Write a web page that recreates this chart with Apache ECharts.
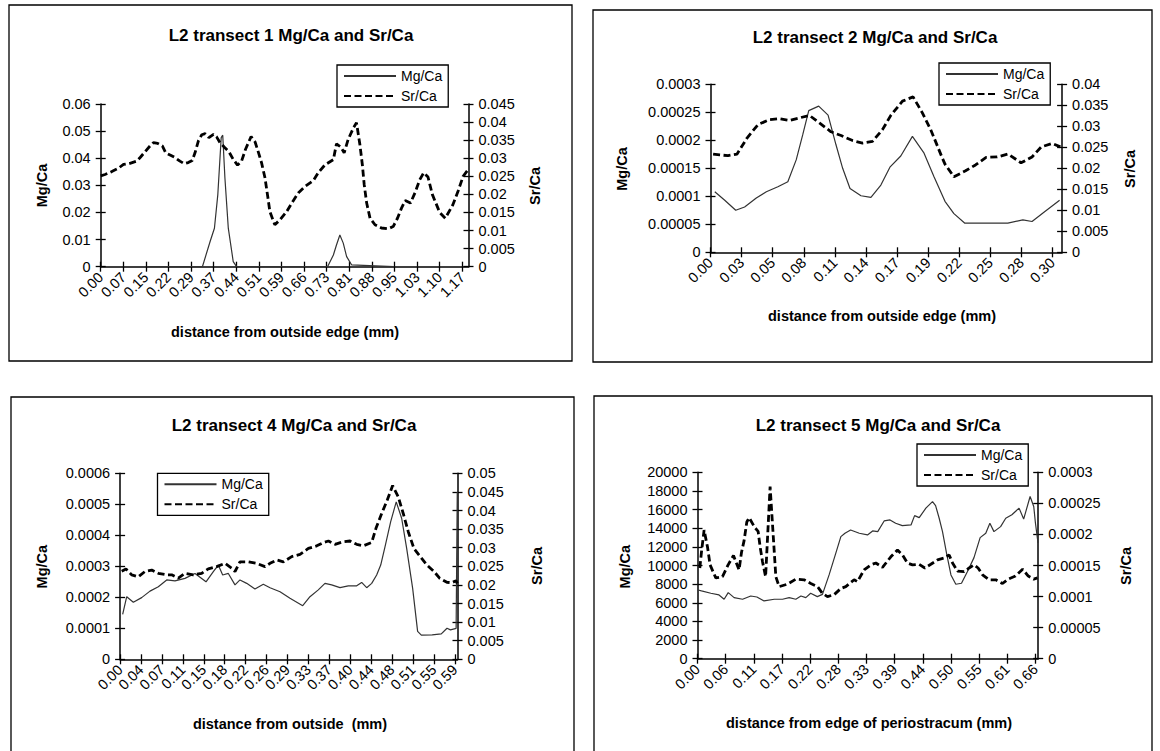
<!DOCTYPE html>
<html>
<head>
<meta charset="utf-8">
<script src="https://cdn.jsdelivr.net/npm/echarts@6/dist/echarts.min.js"></script>
<style>
  html, body { margin: 0; padding: 0; background: #fff; }
  #chart { width: 1160px; height: 751px; }
</style>
</head>
<body>
<div id="chart"></div>
<script>
// ---- Transect 1 ----
const t1Ticks = ['0.00','0.07','0.15','0.22','0.29','0.37','0.44','0.51','0.59','0.66','0.73','0.81','0.88','0.95','1.03','1.10','1.17'];
const t1MgDist = [0.15, 0.33, 0.355, 0.369, 0.380, 0.391, 0.396, 0.403, 0.414, 0.430, 0.441, 0.57, 0.736, 0.755, 0.765, 0.776, 0.787, 0.798, 0.814, 0.95];
const t1Mg     = [0, 0, 0.0093, 0.0142, 0.0266, 0.0476, 0.0485, 0.0328, 0.0142, 0.0019, 0, 0, 0, 0.0043, 0.0080, 0.0117, 0.0087, 0.0037, 0.0007, 0];
const t1SrDist = [0, 0.014, 0.036, 0.057, 0.074, 0.095, 0.117, 0.128, 0.144, 0.160, 0.171, 0.185, 0.200, 0.211, 0.225, 0.241, 0.257, 0.271, 0.284, 0.297,
  0.306, 0.317, 0.328, 0.339, 0.351, 0.366, 0.376, 0.387, 0.403, 0.416, 0.430, 0.444, 0.457, 0.470, 0.488, 0.501, 0.514, 0.522, 0.533, 0.542,
  0.549, 0.565, 0.582, 0.603, 0.620, 0.641, 0.663, 0.690, 0.706, 0.728, 0.755, 0.765, 0.779, 0.790, 0.803, 0.820, 0.830, 0.841, 0.849, 0.855,
  0.863, 0.874, 0.890, 0.911, 0.933, 0.949, 0.963, 0.976, 0.988, 1.005, 1.020, 1.035, 1.048, 1.062, 1.076, 1.100, 1.118, 1.142, 1.160, 1.176, 1.190];
const t1Sr     = [0.0251, 0.0255, 0.0263, 0.0272, 0.0283, 0.0286, 0.0292, 0.0302, 0.0318, 0.0334, 0.0343, 0.0341, 0.0334, 0.0315, 0.0309, 0.0302, 0.0292, 0.0285, 0.0288, 0.0294,
  0.0315, 0.0348, 0.0365, 0.0368, 0.0357, 0.0366, 0.0359, 0.0343, 0.0329, 0.0318, 0.0297, 0.0281, 0.0292, 0.0325, 0.0360, 0.0345, 0.0310, 0.0287, 0.0246, 0.0194,
  0.0152, 0.0116, 0.0130, 0.0152, 0.0176, 0.0204, 0.0222, 0.0238, 0.0260, 0.0282, 0.0296, 0.0340, 0.0331, 0.0315, 0.0352, 0.0384, 0.0398, 0.0338, 0.0282, 0.0227,
  0.0176, 0.0134, 0.0116, 0.0107, 0.0105, 0.0111, 0.0134, 0.0162, 0.0183, 0.0176, 0.0205, 0.0240, 0.0260, 0.0248, 0.0200, 0.0150, 0.0134, 0.0170, 0.0210, 0.0250, 0.0266];

// ---- Transect 2 ----
const t2Ticks = ['0.00','0.03','0.05','0.08','0.11','0.14','0.17','0.19','0.22','0.25','0.28','0.30'];
const t2MgDist = [0.0038, 0.0126, 0.0223, 0.0302, 0.0405, 0.0494, 0.0596, 0.0684, 0.0758, 0.0816, 0.0869, 0.0957, 0.1040, 0.1110, 0.1169, 0.1234, 0.1331,
  0.1419, 0.1507, 0.1587, 0.1683, 0.1786, 0.1889, 0.1977, 0.2074, 0.2153, 0.2250, 0.2418, 0.2630, 0.2763, 0.2844, 0.2958, 0.3088];
const t2Mg     = [0.000108, 0.000093, 0.000075, 0.000081, 0.000097, 0.000108, 0.000117, 0.000126, 0.000165, 0.000210, 0.000253, 0.000261, 0.000245, 0.000192, 0.000150, 0.000114, 0.000101,
  0.000098, 0.000120, 0.000152, 0.000172, 0.000207, 0.000177, 0.000135, 0.000091, 0.000069, 0.000052, 0.000052, 0.000052, 0.000058, 0.000055, 0.000073, 0.000093];
const t2SrDist = [0.0023, 0.0082, 0.0155, 0.0235, 0.0323, 0.0420, 0.0523, 0.0611, 0.0699, 0.0787, 0.0875, 0.0963, 0.1066, 0.1155, 0.1257, 0.1345, 0.1433, 0.1521,
  0.1595, 0.1698, 0.1792, 0.1874, 0.1948, 0.2045, 0.2074, 0.2153, 0.2256, 0.2344, 0.2438, 0.2536, 0.2633, 0.2747, 0.2844, 0.2926, 0.3023, 0.3095];
const t2Sr     = [0.0234, 0.0232, 0.0230, 0.0234, 0.0272, 0.0304, 0.0316, 0.0318, 0.0314, 0.0320, 0.0326, 0.0308, 0.0287, 0.0278, 0.0266, 0.0260, 0.0264, 0.0292,
  0.0326, 0.0360, 0.0370, 0.0332, 0.0292, 0.0228, 0.0210, 0.0180, 0.0194, 0.0208, 0.0226, 0.0227, 0.0234, 0.0213, 0.0227, 0.0251, 0.0259, 0.0251];

// ---- Transect 4 ----
const t4Ticks = ['0.00','0.04','0.07','0.11','0.15','0.18','0.22','0.26','0.29','0.33','0.37','0.40','0.44','0.48','0.51','0.55','0.59'];
const t4MgDist = [0.0045, 0.0116, 0.0232, 0.0378, 0.0524, 0.0670, 0.0817, 0.0962, 0.1137, 0.1313, 0.1506, 0.1634, 0.1721, 0.1798, 0.1897, 0.2014, 0.2101,
  0.2219, 0.2364, 0.2510, 0.2628, 0.2803, 0.2978, 0.3201, 0.3328, 0.3474, 0.3591, 0.3708, 0.3854, 0.4000, 0.4147, 0.4234, 0.4322, 0.4410,
  0.4497, 0.4568, 0.4643, 0.4743, 0.4840, 0.4935, 0.5023, 0.5128, 0.5215, 0.5280, 0.5470, 0.5630, 0.5730, 0.5790, 0.5890, 0.5910];
const t4Mg     = [0.000145, 0.000202, 0.000184, 0.000199, 0.000220, 0.000234, 0.000256, 0.000253, 0.000261, 0.000277, 0.000250, 0.000283, 0.000304, 0.000272, 0.000277, 0.000240, 0.000256,
  0.000245, 0.000227, 0.000242, 0.000231, 0.000218, 0.000197, 0.000173, 0.000202, 0.000224, 0.000245, 0.000240, 0.000231, 0.000237, 0.000237, 0.000248, 0.000231, 0.000245,
  0.000272, 0.000304, 0.000363, 0.000444, 0.000508, 0.000455, 0.000358, 0.000229, 0.000090, 0.000078, 0.000079, 0.000082, 0.000100, 0.000095, 0.000100, 0.000540];
const t4SrDist = [0.0028, 0.0103, 0.0203, 0.0319, 0.0436, 0.0554, 0.0670, 0.0817, 0.0904, 0.1020, 0.1137, 0.1283, 0.1430, 0.1546, 0.1693, 0.1839, 0.1956, 0.2014,
  0.2101, 0.2247, 0.2394, 0.2540, 0.2628, 0.2745, 0.2862, 0.3008, 0.3154, 0.3300, 0.3447, 0.3564, 0.3651, 0.3768, 0.3914, 0.4030, 0.4147, 0.4263,
  0.4410, 0.4485, 0.4585, 0.4683, 0.4777, 0.4875, 0.4963, 0.5051, 0.5150, 0.5286, 0.5375, 0.5503, 0.5600, 0.5728, 0.5811, 0.5889, 0.5910];
const t4Sr     = [0.0237, 0.0243, 0.0227, 0.0222, 0.0236, 0.0240, 0.0231, 0.0227, 0.0227, 0.0218, 0.0231, 0.0227, 0.0231, 0.0243, 0.0249, 0.0258, 0.0245, 0.0236,
  0.0262, 0.0262, 0.0258, 0.0249, 0.0258, 0.0267, 0.0262, 0.0276, 0.0282, 0.0298, 0.0305, 0.0314, 0.0318, 0.0309, 0.0316, 0.0318, 0.0309, 0.0305,
  0.0314, 0.0352, 0.0392, 0.0428, 0.0467, 0.0437, 0.0392, 0.0343, 0.0298, 0.0271, 0.0254, 0.0236, 0.0218, 0.0207, 0.0206, 0.0211, 0.0204];

// ---- Transect 5 ----
const t5Ticks = ['0.00','0.06','0.11','0.17','0.22','0.28','0.33','0.39','0.44','0.50','0.55','0.61','0.66'];
const t5MgDist = [0.001, 0.0078, 0.026, 0.042, 0.052, 0.060, 0.0715, 0.088, 0.104, 0.116, 0.130, 0.150, 0.166, 0.179, 0.192, 0.202, 0.2115, 0.221, 0.234, 0.244,
  0.257, 0.270, 0.280, 0.288, 0.299, 0.316, 0.332, 0.342, 0.352, 0.3645, 0.376, 0.387, 0.400, 0.417, 0.424, 0.433, 0.446, 0.459, 0.465, 0.472,
  0.4785, 0.487, 0.495, 0.5045, 0.5156, 0.527, 0.540, 0.552, 0.563, 0.571, 0.579, 0.592, 0.602, 0.614, 0.628, 0.637, 0.6496, 0.6567, 0.660, 0.665];
const t5Mg     = [7370, 7270, 7020, 6840, 6380, 7090, 6550, 6380, 6730, 6620, 6200, 6380, 6380, 6550, 6380, 6730, 6550, 7020, 6660, 6900,
  8990, 11300, 13100, 13460, 13815, 13460, 13280, 13710, 13635, 14780, 14890, 14535, 14280, 14355, 15355, 15140, 16150, 16855, 16425, 15070,
  13635, 11130, 8985, 7985, 8095, 9340, 10845, 12990, 13460, 14535, 13635, 14170, 15070, 15445, 16157, 14982, 17400, 16335, 14555, 12420];
const t5SrDist = [0.0045, 0.0078, 0.0129, 0.0195, 0.0246, 0.0357, 0.0488, 0.0598, 0.0703, 0.0812, 0.0859, 0.0910, 0.0963, 0.1008, 0.1119, 0.1184, 0.1223, 0.1270,
  0.1330, 0.1418, 0.1530, 0.1594, 0.1758, 0.1920, 0.2082, 0.2213, 0.2344, 0.2441, 0.2539, 0.2668, 0.2799, 0.2896, 0.3059, 0.3125, 0.3254, 0.3385,
  0.3483, 0.3613, 0.3776, 0.3906, 0.4004, 0.4101, 0.4199, 0.4328, 0.4440, 0.4557, 0.4688, 0.4818, 0.4915, 0.4981, 0.5079, 0.5207, 0.5305, 0.5402,
  0.5480, 0.5567, 0.5695, 0.5826, 0.5957, 0.6066, 0.621, 0.635, 0.646, 0.6567, 0.6640];
const t5Sr     = [0.000146, 0.000172, 0.000207, 0.000180, 0.000151, 0.000130, 0.000132, 0.000151, 0.000166, 0.000143, 0.000171, 0.000190, 0.000220, 0.000227, 0.000211, 0.000205, 0.000180, 0.000156,
  0.000132, 0.000277, 0.000132, 0.000116, 0.000120, 0.000128, 0.000127, 0.000121, 0.000116, 0.000105, 0.000100, 0.000103, 0.000113, 0.000116, 0.000127, 0.000124, 0.000143, 0.000151,
  0.000154, 0.000147, 0.000164, 0.000175, 0.000167, 0.000154, 0.000151, 0.000152, 0.000146, 0.000152, 0.000159, 0.000162, 0.000167, 0.000154, 0.000141, 0.000140, 0.000146, 0.000151,
  0.000146, 0.000135, 0.000127, 0.000127, 0.000121, 0.000128, 0.000133, 0.000144, 0.000133, 0.000128, 0.000130];

// ---- Layout of the four panels ----
const FONT = '"Liberation Sans", Arial, Helvetica, sans-serif';
const TICK_FONT = 14.5;

const panels = [
  {
    box: [9, 5, 563, 356],
    grid: { left: 100.7, top: 104, width: 367.8, height: 162.7 },
    x: { max: 1.1934, step: 0.22 / 3, labels: t1Ticks },
    mgAxis: { max: 0.06, step: 0.01 }, srAxis: { max: 0.045, step: 0.005 },
    legend: { left: 337, top: 65 },
    title: { text: 'L2 transect 1 Mg/Ca and Sr/Ca', x: 291, y: 35 },
    xName: { text: 'distance from outside edge (mm)', x: 285, y: 331.5 },
    mgName: { x: 42, y: 185.5 }, srName: { x: 535, y: 186 },
    mg: [t1MgDist, t1Mg], sr: [t1SrDist, t1Sr]
  },
  {
    box: [593, 10, 559, 352],
    grid: { left: 710.5, top: 84.3, width: 351.6, height: 168 },
    x: { max: 0.311, step: 0.0275, labels: t2Ticks },
    mgAxis: { max: 0.0003, step: 0.00005 }, srAxis: { max: 0.04, step: 0.005 },
    legend: { left: 939, top: 63 },
    title: { text: 'L2 transect 2 Mg/Ca and Sr/Ca', x: 875, y: 37 },
    xName: { text: 'distance from outside edge (mm)', x: 882, y: 316 },
    mgName: { x: 622, y: 169 }, srName: { x: 1130, y: 169 },
    mg: [t2MgDist, t2Mg], sr: [t2SrDist, t2Sr]
  },
  {
    box: [11, 397, 563, 370],
    grid: { left: 120.1, top: 473.3, width: 337.4, height: 186 },
    x: { max: 0.5914, step: 0.11 / 3, labels: t4Ticks },
    mgAxis: { max: 0.0006, step: 0.0001 }, srAxis: { max: 0.05, step: 0.005 },
    legend: { left: 157.5, top: 473.3 },
    title: { text: 'L2 transect 4 Mg/Ca and Sr/Ca', x: 294, y: 425.5 },
    xName: { text: 'distance from outside  (mm)', x: 290, y: 724 },
    mgName: { x: 42, y: 566.7 }, srName: { x: 537, y: 566 },
    mg: [t4MgDist, t4Mg], sr: [t4SrDist, t4Sr]
  },
  {
    box: [594, 396, 558, 370],
    grid: { left: 697.5, top: 472.3, width: 340.7, height: 186.4 },
    x: { max: 0.6654, step: 0.055, labels: t5Ticks },
    mgAxis: { max: 20000, step: 2000 }, srAxis: { max: 0.0003, step: 0.00005 },
    legend: { left: 917, top: 444 },
    title: { text: 'L2 transect 5 Mg/Ca and Sr/Ca', x: 878, y: 425.5 },
    xName: { text: 'distance from edge of periostracum (mm)', x: 869, y: 722.5 },
    mgName: { x: 625, y: 566.7 }, srName: { x: 1126, y: 566 },
    mg: [t5MgDist, t5Mg], sr: [t5SrDist, t5Sr]
  }
];

// ---- Helpers ----
const zip = (xs, ys) => xs.map((x, i) => [x, ys[i]]);

// Tick labels come from the label list; the two x axes of a panel share them,
// one writing the even-numbered ticks and the other the odd-numbered ones.
function xLabelFormatter(labels, step, parity) {
  return function (v) {
    const k = v / step;
    const r = Math.round(k);
    if (Math.abs(k - r) > 1e-3 || r % 2 !== parity) return '';
    return labels[r] !== undefined ? labels[r] : '';
  };
}
const yLabelFormatter = v => String(+(+v).toPrecision(8));

const AXIS_LINE = { show: true, onZero: false, lineStyle: { color: '#000', width: 1.5 } };
const TICK_STYLE = { color: '#000', width: 1.3 };
const LABEL_STYLE = { fontSize: TICK_FONT, fontFamily: FONT, color: '#000', showMinLabel: true, hideOverlap: false };

const xAxes = [], yAxes = [], grids = [], series = [], legends = [], graphics = [];

panels.forEach((p, i) => {
  grids.push(Object.assign({ containLabel: false, outerBoundsMode: 'none' }, p.grid));

  const xBase = { gridIndex: i, type: 'value', position: 'bottom', min: 0, max: p.x.max, interval: p.x.step, splitLine: { show: false } };
  const xLabel = parity => Object.assign({ show: true, rotate: 45, margin: 8,
    formatter: xLabelFormatter(p.x.labels, p.x.step, parity) }, LABEL_STYLE, { showMaxLabel: false });
  // main x axis: line, outward half of the ticks, odd tick labels
  xAxes.push(Object.assign({}, xBase, {
    axisLine: AXIS_LINE,
    axisTick: { show: true, inside: false, length: 5, lineStyle: TICK_STYLE },
    axisLabel: xLabel(1)
  }));
  // companion x axis: inward half of the ticks, even tick labels
  xAxes.push(Object.assign({}, xBase, {
    axisLine: { show: false, onZero: false },
    axisTick: { show: true, inside: true, length: 5, lineStyle: TICK_STYLE },
    axisLabel: xLabel(0)
  }));

  const mgBase = { gridIndex: i, type: 'value', position: 'left', min: 0, max: p.mgAxis.max, interval: p.mgAxis.step, splitLine: { show: false } };
  const srBase = { gridIndex: i, type: 'value', position: 'right', min: 0, max: p.srAxis.max, interval: p.srAxis.step, splitLine: { show: false } };
  yAxes.push(Object.assign({}, mgBase, {
    axisLine: AXIS_LINE,
    axisTick: { show: true, inside: false, length: 5, lineStyle: TICK_STYLE },
    axisLabel: Object.assign({ margin: 10, formatter: yLabelFormatter, showMaxLabel: true }, LABEL_STYLE)
  }));
  yAxes.push(Object.assign({}, srBase, {
    axisLine: AXIS_LINE,
    axisTick: { show: true, inside: false, length: 5, lineStyle: TICK_STYLE },
    axisLabel: Object.assign({ margin: 10, formatter: yLabelFormatter, showMaxLabel: true }, LABEL_STYLE)
  }));
  yAxes.push(Object.assign({}, mgBase, {
    axisLine: { show: false, onZero: false },
    axisTick: { show: true, inside: true, length: 5, lineStyle: TICK_STYLE },
    axisLabel: { show: false }
  }));
  yAxes.push(Object.assign({}, srBase, {
    axisLine: { show: false, onZero: false },
    axisTick: { show: true, inside: true, length: 5, lineStyle: TICK_STYLE },
    axisLabel: { show: false }
  }));

  series.push({
    type: 'line', name: 'Mg/Ca', xAxisIndex: 2 * i, yAxisIndex: 4 * i,
    data: zip(p.mg[0], p.mg[1]), symbol: 'none', z: 3,
    lineStyle: { color: '#333', width: 1.2 }, itemStyle: { color: '#333' }
  });
  series.push({
    type: 'line', name: 'Sr/Ca', xAxisIndex: 2 * i, yAxisIndex: 4 * i + 1,
    data: zip(p.sr[0], p.sr[1]), symbol: 'none', z: 4,
    lineStyle: { color: '#000', width: 2.8, type: [7, 3.5], cap: 'butt' }, itemStyle: { color: '#000' }
  });

  legends.push({
    data: ['Mg/Ca', 'Sr/Ca'], orient: 'vertical', left: p.legend.left, top: p.legend.top,
    itemWidth: 52, itemHeight: 12, itemGap: 6, padding: [4, 6, 4, 6],
    borderColor: '#000', borderWidth: 1.3, backgroundColor: '#fff', selectedMode: false,
    itemStyle: { opacity: 0 },
    textStyle: { fontSize: 14, fontFamily: FONT, color: '#000' }
  });

  // frame around the panel
  graphics.push({
    type: 'rect', z: -1, silent: true,
    shape: { x: p.box[0], y: p.box[1], width: p.box[2], height: p.box[3] },
    style: { fill: 'none', stroke: '#000', lineWidth: 1.3 }
  });
  const text = (t, x, y, font, rot) => ({
    type: 'text', x: x, y: y, rotation: rot || 0, silent: true,
    style: { text: t, font: font, fill: '#000', align: 'center', verticalAlign: 'middle', textAlign: 'center', textVerticalAlign: 'middle' }
  });
  graphics.push(text(p.title.text, p.title.x, p.title.y, 'bold 17px ' + FONT));
  graphics.push(text(p.xName.text, p.xName.x, p.xName.y, 'bold 14.5px ' + FONT));
  graphics.push(text('Mg/Ca', p.mgName.x, p.mgName.y, 'bold 14.5px ' + FONT, Math.PI / 2));
  graphics.push(text('Sr/Ca', p.srName.x, p.srName.y, 'bold 14.5px ' + FONT, Math.PI / 2));
});

const chart = echarts.init(document.getElementById('chart'), null, { renderer: 'svg', width: 1160, height: 751 });
chart.setOption({
  backgroundColor: '#fff',
  animation: false,
  grid: grids,
  xAxis: xAxes,
  yAxis: yAxes,
  legend: legends,
  series: series,
  graphic: graphics
});
</script>
</body>
</html>
